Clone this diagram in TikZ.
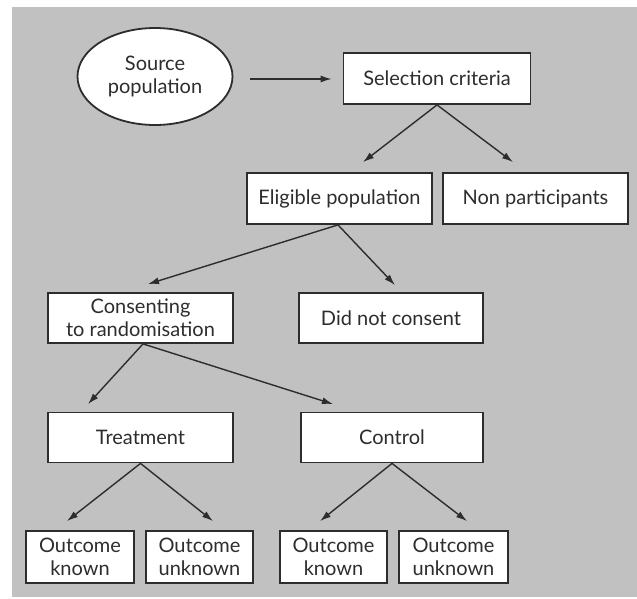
\documentclass[tikz,border=0pt]{standalone}
\usepackage{fontspec}
\setmainfont{Lato}
\usetikzlibrary{calc,arrows.meta,shapes.geometric}
\definecolor{panelgray}{RGB}{193,193,193}
\definecolor{inkgray}{RGB}{45,45,45}
\tikzset{
	box/.style={draw=inkgray, line width=1.8pt, fill=white, inner sep=0pt, align=center,
		minimum height=51pt, font=\fontsize{20}{23}\selectfont, text=inkgray},
	arr/.style={draw=inkgray, line width=1.4pt, -{Latex[length=11pt,width=7pt]}}
}

\begin{document}
\begin{tikzpicture}[x=1pt, y=-1pt]
			%%%%% START %%%%%
			
			\useasboundingbox (0, 0) rectangle (637, 598);
			\fill[panelgray] (12, 7) rectangle (637, 597);
			
			\node[box, ellipse, minimum width=155pt, minimum height=97pt] (src) at (155, 76.5) {Source\\population};
			\node[box, minimum width=187pt] (sel) at (437, 78.5) {Selection criteria};
			
			\node[box, minimum width=185pt] (elig) at (339.5, 198.5) {Eligible population};
			\node[box, minimum width=185pt] (nonp) at (535.5, 198.5) {Non participants};
			
			\node[box, minimum width=185pt, minimum height=50pt] (cons) at (140.5, 318) {Consenting\\to randomisation};
			\node[box, minimum width=184pt, minimum height=50pt] (dnc) at (391, 318) {Did not consent};
			
			\node[box, minimum width=185pt, minimum height=50pt] (treat) at (140.5, 437.5) {Treatment};
			\node[box, minimum width=182pt, minimum height=50pt] (ctrl) at (392, 437.5) {Control};
			
			\node[box, minimum width=108pt, minimum height=52pt] (okA) at (80, 557) {Outcome\\known};
			\node[box, minimum width=107pt, minimum height=52pt] (unA) at (199.5, 557) {Outcome\\unknown};
			\node[box, minimum width=107pt, minimum height=52pt] (okB) at (333.5, 557) {Outcome\\known};
			\node[box, minimum width=109pt, minimum height=52pt] (unB) at (453.5, 557) {Outcome\\unknown};
			
			\draw[arr] ($(src.east)+(17, 2.5)$) -- ($(sel.west)+(-11, 0.5)$);
			
			\draw[arr] (sel.south) -- ($(elig.north)+(23.5, -10)$);
			\draw[arr] (sel.south) -- ($(nonp.north)+(-22.5, -10)$);
			
			\draw[arr] ($(elig.south)+(-1.5, 0)$) -- ($(cons.north)+(7.5, -8)$);
			\draw[arr] ($(elig.south)+(-1.5, 0)$) -- ($(dnc.north)+(4, -7)$);
			
			\draw[arr] ($(cons.south)+(2.5, 0)$) -- ($(treat.north)+(-52.5, -7.5)$);
			\draw[arr] ($(cons.south)+(2.5, 0)$) -- ($(ctrl.north)+(-59, -7.5)$);
			
			\draw[arr] (treat.south) -- ($(okA.north)+(-13, -9)$);
			\draw[arr] (treat.south) -- ($(unA.north)+(13.5, -9)$);
			\draw[arr] (ctrl.south) -- ($(okB.north)+(-13.5, -9)$);
			\draw[arr] (ctrl.south) -- ($(unB.north)+(13.5, -9)$);
			
			%%%%% END %%%%%
		\end{tikzpicture}
\end{document}
